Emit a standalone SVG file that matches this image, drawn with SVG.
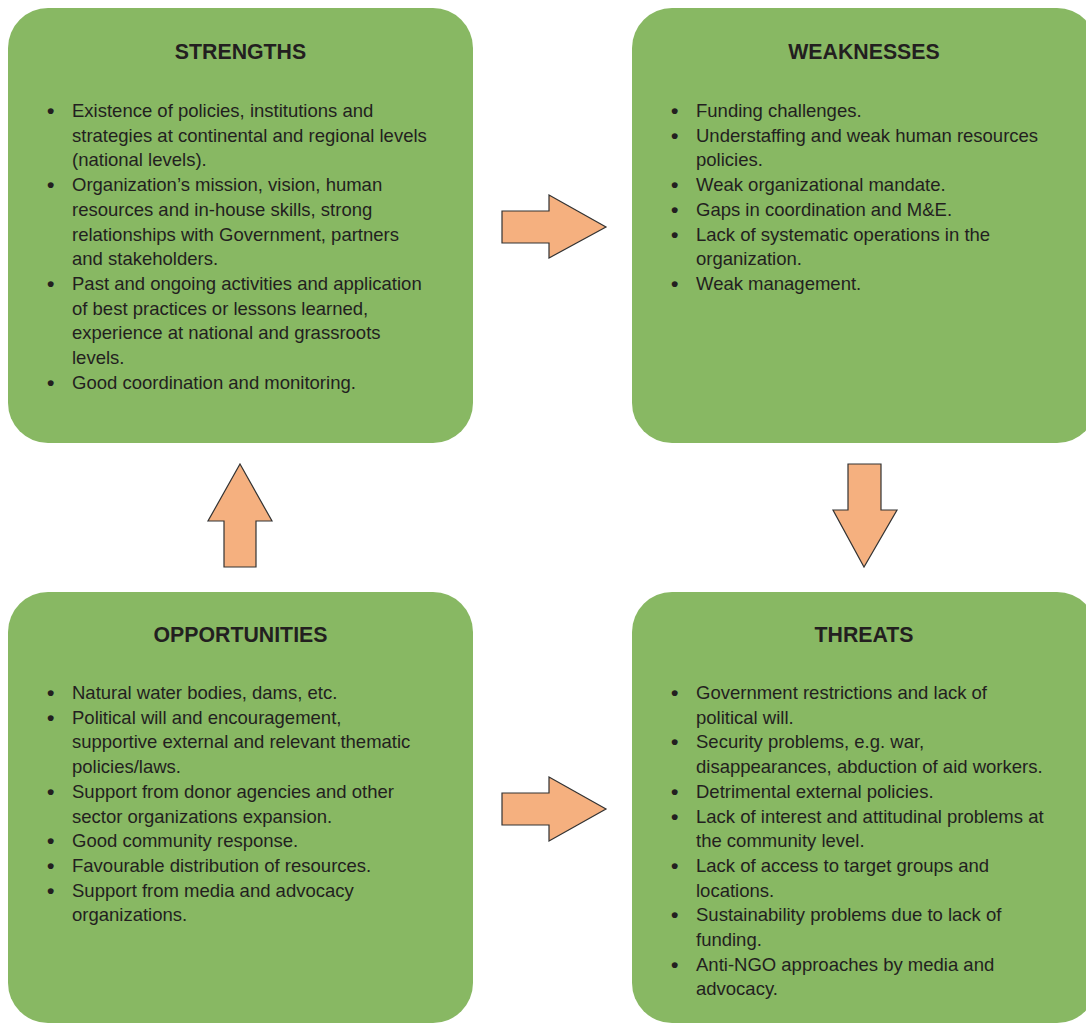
<svg xmlns="http://www.w3.org/2000/svg" width="1086" height="1023" viewBox="0 0 1086 1023">
<style>
.box{fill:#88b863}
.hd{font-family:"Liberation Sans",Arial,sans-serif;font-weight:bold;font-size:21.3px;fill:#231f20;text-anchor:middle}
.tx{font-family:"Liberation Sans",Arial,sans-serif;font-size:18.5px;fill:#231f20}
.b{font-size:21px;font-weight:bold}
.arr{fill:#f5b07f;stroke:#333;stroke-width:1.2;stroke-linejoin:miter}
</style>
<rect width="1086" height="1023" fill="#fff"/>
<g id="strengths">
<rect class="box" x="8" y="8" width="465" height="435" rx="40"/>
<text class="hd" x="240.5" y="59">STRENGTHS</text>
<g class="tx">
<text class="b" x="47" y="118">•</text><text x="72" y="117">Existence of policies, institutions and</text>
<text x="72" y="141.7">strategies at continental and regional levels</text>
<text x="72" y="166.4">(national levels).</text>
<text class="b" x="47" y="192.1">•</text><text x="72" y="191.1">Organization’s mission, vision, human</text>
<text x="72" y="215.8">resources and in-house skills, strong</text>
<text x="72" y="240.5">relationships with Government, partners</text>
<text x="72" y="265.2">and stakeholders.</text>
<text class="b" x="47" y="290.9">•</text><text x="72" y="289.9">Past and ongoing activities and application</text>
<text x="72" y="314.6">of best practices or lessons learned,</text>
<text x="72" y="339.3">experience at national and grassroots</text>
<text x="72" y="364">levels.</text>
<text class="b" x="47" y="389.7">•</text><text x="72" y="388.7">Good coordination and monitoring.</text>
</g>
</g>
<g id="weaknesses">
<rect class="box" x="632" y="8" width="465" height="435" rx="40"/>
<text class="hd" x="864" y="59">WEAKNESSES</text>
<g class="tx">
<text class="b" x="671" y="118">•</text><text x="696" y="117">Funding challenges.</text>
<text class="b" x="671" y="142.7">•</text><text x="696" y="141.7">Understaffing and weak human resources</text>
<text x="696" y="166.4">policies.</text>
<text class="b" x="671" y="192.1">•</text><text x="696" y="191.1">Weak organizational mandate.</text>
<text class="b" x="671" y="216.8">•</text><text x="696" y="215.8">Gaps in coordination and M&amp;E.</text>
<text class="b" x="671" y="241.5">•</text><text x="696" y="240.5">Lack of systematic operations in the</text>
<text x="696" y="265.2">organization.</text>
<text class="b" x="671" y="290.9">•</text><text x="696" y="289.9">Weak management.</text>
</g>
</g>
<g id="opportunities">
<rect class="box" x="8" y="592" width="465" height="431" rx="40"/>
<text class="hd" x="240.5" y="642">OPPORTUNITIES</text>
<g class="tx">
<text class="b" x="47" y="700">•</text><text x="72" y="699">Natural water bodies, dams, etc.</text>
<text class="b" x="47" y="724.7">•</text><text x="72" y="723.7">Political will and encouragement,</text>
<text x="72" y="748.4">supportive external and relevant thematic</text>
<text x="72" y="773.1">policies/laws.</text>
<text class="b" x="47" y="798.8">•</text><text x="72" y="797.8">Support from donor agencies and other</text>
<text x="72" y="822.5">sector organizations expansion.</text>
<text class="b" x="47" y="848.2">•</text><text x="72" y="847.2">Good community response.</text>
<text class="b" x="47" y="872.9">•</text><text x="72" y="871.9">Favourable distribution of resources.</text>
<text class="b" x="47" y="897.6">•</text><text x="72" y="896.6">Support from media and advocacy</text>
<text x="72" y="921.3">organizations.</text>
</g>
</g>
<g id="threats">
<rect class="box" x="632" y="592" width="465" height="431" rx="40"/>
<text class="hd" x="864" y="642">THREATS</text>
<g class="tx">
<text class="b" x="671" y="700">•</text><text x="696" y="699">Government restrictions and lack of</text>
<text x="696" y="723.7">political will.</text>
<text class="b" x="671" y="749.4">•</text><text x="696" y="748.4">Security problems, e.g. war,</text>
<text x="696" y="773.1">disappearances, abduction of aid workers.</text>
<text class="b" x="671" y="798.8">•</text><text x="696" y="797.8">Detrimental external policies.</text>
<text class="b" x="671" y="823.5">•</text><text x="696" y="822.5">Lack of interest and attitudinal problems at</text>
<text x="696" y="847.2">the community level.</text>
<text class="b" x="671" y="872.9">•</text><text x="696" y="871.9">Lack of access to target groups and</text>
<text x="696" y="896.6">locations.</text>
<text class="b" x="671" y="922.3">•</text><text x="696" y="921.3">Sustainability problems due to lack of</text>
<text x="696" y="946">funding.</text>
<text class="b" x="671" y="971.7">•</text><text x="696" y="970.7">Anti-NGO approaches by media and</text>
<text x="696" y="995.4">advocacy.</text>
</g>
</g>
<g id="connectors">
<polygon class="arr" points="502,211 549,211 549,195 606,227 549,258 549,243 502,243"/>
<polygon class="arr" points="848,464 881,464 881,510 897,510 864,567 833,510 848,510"/>
<polygon class="arr" points="240,464 272,521 256,521 256,567 224,567 224,521 208,521"/>
<polygon class="arr" points="502,793 549,793 549,777 606,809 549,841 549,825 502,825"/>
</g>
</svg>
